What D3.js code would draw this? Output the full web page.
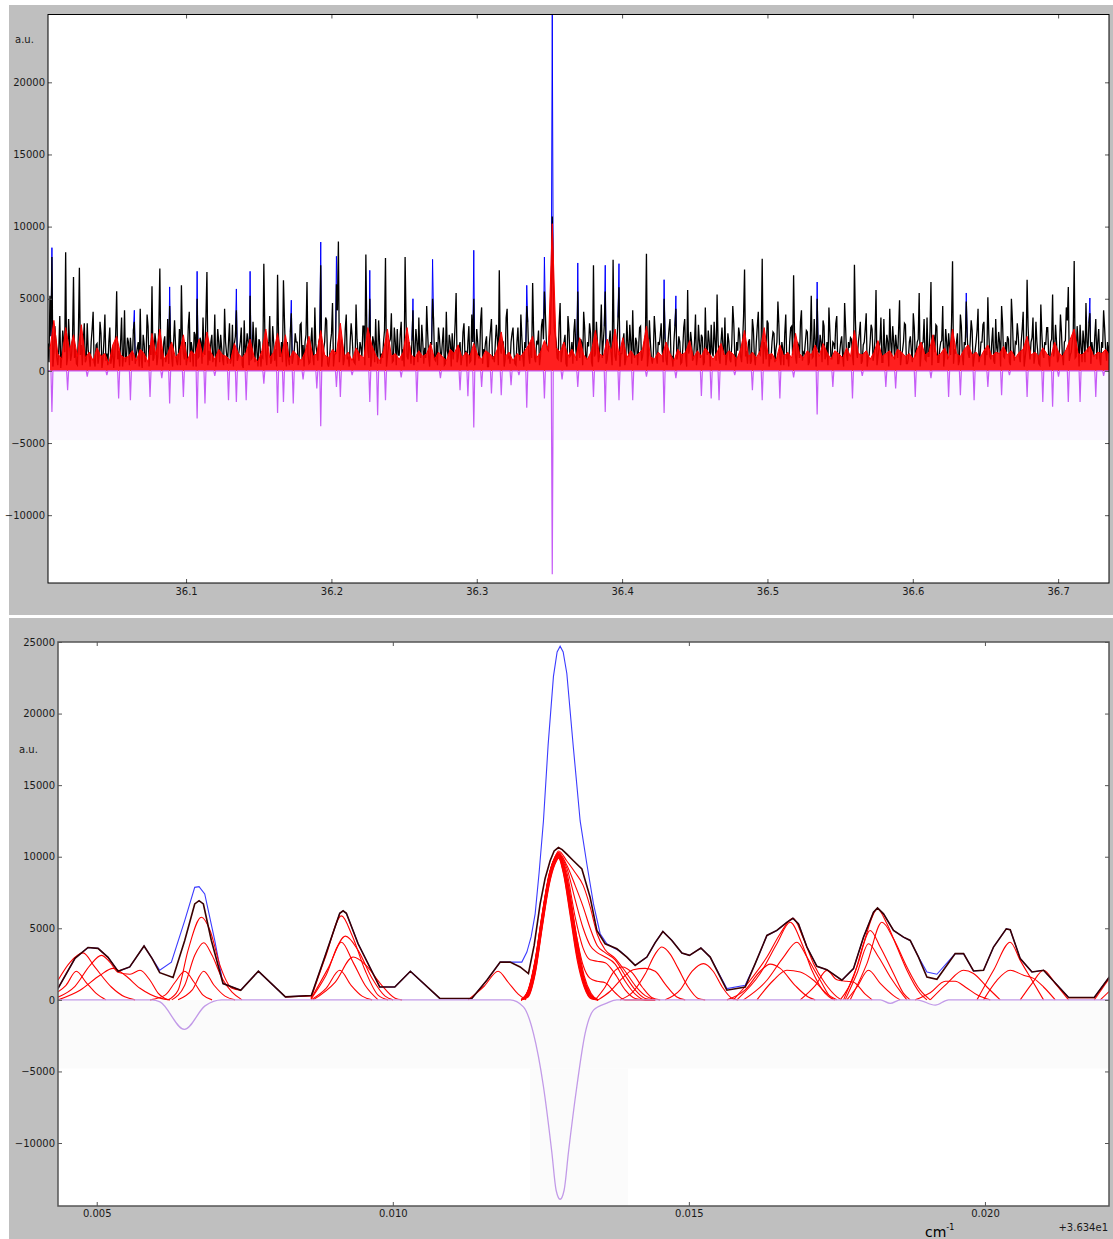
<!DOCTYPE html>
<html><head><meta charset="utf-8">
<script src="https://cdn.jsdelivr.net/npm/d3@7"></script>
<style>body{margin:0;background:#fff}svg{display:block}text{font-family:"DejaVu Sans",sans-serif}</style>
</head><body><svg id="c" width="1113" height="1239"></svg>
<script>
// ---------------- DATA ----------------
// Top panel: wide spectrum, uniform sample grid
const topXDomain = [36.005, 36.735];
const topYDomain = [-14700, 24700];
const topXTicks = [36.1, 36.2, 36.3, 36.4, 36.5, 36.6, 36.7];
const topYTicks = [-10000, -5000, 0, 5000, 10000, 15000, 20000];
const topStart = 36.005, topStep = 0.00135;
// fitted sum (black), one value per main sample
const topSum = [
1900,5200,7890,1200,2000,400,3800,1000,2000,8220,
900,2000,1100,6510,1500,400,7150,1800,2100,600,
3300,1000,2000,4100,300,1900,1000,2600,800,3900,
1200,2000,500,1700,1000,5520,1400,2000,300,4200,
1000,2000,2300,700,3400,1100,2000,4300,200,1900,
1000,3100,1800,5860,900,2000,1000,7090,1500,2000,
600,3600,4500,1000,2000,1800,400,2900,5930,1200,
2000,900,4100,2000,300,2500,5000,1000,2000,3700,
1100,6850,1400,2000,600,3900,1000,2000,2500,800,
4300,1200,2000,500,3200,1900,4200,1000,2000,400,
3500,1600,2000,5200,900,2000,3000,300,2000,1000,
7430,1100,2000,3800,700,2000,1500,6670,1000,2000,
6280,1200,2000,400,4000,1000,2600,2000,900,3300,
1800,2000,6160,500,2000,1000,4400,1300,2000,7320,
1000,2000,3500,300,2000,4700,1100,6000,8960,1500,
2000,800,3900,1000,2000,2400,600,4600,1200,2000,
1000,3100,8060,1400,5000,900,2000,3600,500,2000,
1200,2000,7820,1000,2000,4000,700,2000,2900,1100,
3400,1500,7890,1000,2000,500,4200,1300,2000,3700,
900,2000,1600,4500,1000,2000,5000,800,2000,3000,
1200,2000,400,4100,1000,2000,2600,1700,5400,900,
2000,1000,3300,1400,2000,600,3900,5000,1100,2000,
900,4400,1500,2000,300,2000,3600,1000,2000,2200,
6970,1200,2000,800,4300,1000,2000,3000,500,2000,
1300,3900,1000,2000,4500,1100,2000,6090,900,2000,
2800,1000,3600,5500,2000,1400,2600,10700,3000,2000,
800,4700,1200,2000,500,3800,1000,2000,2700,1500,
5500,900,2000,4100,1000,2000,3300,600,7320,1200,
2000,1000,4600,2000,5500,800,2000,1300,7710,1000,
2000,5800,1200,2000,400,3500,1000,2000,4200,900,
2000,1600,3100,1000,2000,8120,1100,2000,500,3800,
1000,2000,2400,1400,5000,800,2000,3600,1000,2000,
4300,1200,2000,600,3000,1000,5600,1500,2000,900,
3900,1000,2000,2500,400,4400,1100,2000,3200,1000,
2000,5300,900,2000,1600,3700,1000,2000,600,4500,
1200,2000,3000,1000,2000,7020,1400,2000,500,3600,
1000,2000,4100,1100,7780,2000,800,3300,1000,2000,
2600,1500,4800,1000,2000,400,3900,1200,2000,3100,
6620,1000,2000,900,4200,1300,2000,2700,600,5200,
1000,2000,5000,1200,2000,3500,800,2000,4400,1000,
2000,1500,3800,500,2000,1000,4700,1100,2000,2300,
1000,7360,1400,2000,3400,700,2000,4000,1000,2000,
2900,1200,5600,1000,2000,600,3600,1300,2000,4300,
1000,2000,2500,900,4900,1100,2000,3200,500,2000,
1400,4000,1000,2000,5400,1200,2000,800,3700,1000,
6160,2000,1300,3100,600,2000,4500,1000,2000,2600,
1100,7590,1500,2000,400,3900,1000,2000,4800,1200,
2000,2800,900,2000,4300,1000,2000,3400,1400,5100,
1000,2000,700,3600,1200,2000,4500,1000,2000,2400,
600,5000,1300,2000,3300,1000,2000,4100,900,6320,
1500,2000,3700,1000,2000,500,4600,1200,2000,3000,
1000,2000,5300,1400,2000,800,3900,1000,2000,4400,
5820,1100,2000,7620,1000,2000,3200,600,2000,4700,
1300,4000,2000,1000,3600,2000,900,2000,4200,1500,
2000,1800];
// fitted sum (black) at the half-way samples between main samples
const topSumMid = [
600,2400,300,3100,900,1500,200,2800,1300,400,
3600,700,2200,900,500,2700,1100,400,3300,800,
1400,300,2900,600,1800,500,3400,200,2100,700,
400,3000,900,200,2600,800,300,3700,1000,600,
2300,400,1200,2800,500,1600,300,900,2500,600,
3900,300,1100,700,2600,400,3200,800,300,2400,
1000,500,1900,300,3500,700,1200,400,2200,800,
400,3100,600,1500,2700,300,900,2300,500,1300,
3800,400,700,2500,1100,300,2900,600,1600,400,
2000,500,3300,900,300,2400,700,1500,3000,200,
1200,2600,400,800,3400,600,1300,2200,300,900,
2800,400,1700,500,3100,700,300,2400,1000,600,
3600,300,900,2700,500,1400,2000,400,3200,800,
300,2500,1100,600,3000,400,1800,700,2300,300,
1500,3700,500,900,2600,300,1200,4200,600,2100,
400,2900,800,300,3300,1000,500,2200,700,1600,
3100,400,2700,900,300,2400,600,1300,3500,500,
900,2800,300,1700,2200,600,3000,400,1100,2500,
700,300,3400,800,1500,2100,400,2900,600,1200,
3200,500,900,2600,300,1800,3600,700,400,2300,
1000,3000,500,1400,2500,300,800,3300,600,1700,
400,2700,1100,300,3100,700,2000,400,2900,900,
3500,500,1300,2400,300,2800,800,600,3200,400,
1500,2100,300,3700,900,500,2600,1200,400,3000,
700,2300,300,1600,3400,500,900,2700,600,1900,
400,3100,2200,3900,1500,2400,5500,6000,2500,900,
3300,600,1800,2500,300,2900,1100,500,3600,700,
1400,2200,400,3000,800,1700,2600,300,1000,3400,
600,2400,900,3100,500,1500,2800,400,2100,700,
3700,300,1200,2600,800,1900,3200,500,1400,2300,
400,3000,700,1600,2500,300,3500,900,1100,2700,
500,1800,3300,600,2200,400,2900,1000,300,3100,
800,2400,500,1500,3600,300,1200,2700,700,2000,
400,3200,900,2300,600,1700,2800,300,1300,3400,
700,2100,500,3000,1100,400,2600,800,1900,3300,
300,1400,2500,600,3800,1000,500,2200,700,2900,
400,3100,1200,2400,500,1600,3500,300,900,2700,
600,2000,3200,400,1500,2600,800,300,3000,1100,
2300,500,1800,3400,700,1200,2800,400,2100,900,
3600,300,1500,2500,600,3100,1000,400,2700,800,
1900,3300,500,1300,2400,300,3000,700,1600,2200,
400,3500,900,2600,500,1800,2900,300,1100,3200,
700,2300,400,1500,3700,600,1200,2500,300,2000,
3100,800,1700,2800,400,1400,3300,500,900,2400,
600,3000,1300,2200,300,1900,3600,700,1000,2700,
400,2500,3200,600,1500,2100,300,2900,800,1700,
3400,500,1200,2600,700,3100,400,1800,2300,900,
3500,300,1400,2800,600,2000,3200,400,1100,2500,
800,3000,500,1600,2700,300,3300,900,1300,2200,
400,3600,700,1900,2400,600,2900,300,1500,3100,
800,2300,500,3400,1200,400,2600,900,1800,3000,
300,2200,1000,3200,600,1500,2700,400,2100,3500,
700,1300,2500,900,3100,300,1700,2800,600,2000,
3300,500,1400,2400,800,2900,400,1600,3000,700,
1200];
// measured data (blue) where it rises above the fit: [main sample index, value]
const topBlueOverrides = [[2,8540],[44,4200],[62,5820],[76,6900],[96,5680],[103,6900],[124,4900],[139,8930],[147,7940],[164,6970],[186,5000],[196,7730],[217,8360],[244,5930],[253,7890],[257,24700],[270,7480],[284,7320],[291,7430],[314,6320],[320,5200],[392,6160],[468,5400],[531,5050]];
// residual (purple): [main sample index, value]
const topResidSpikes = [[2,-2840],[10,-1340],[20,-400],[30,-300],[36,-1920],[42,-2030],[52,-1800],[58,-500],[62,-2260],[69,-1800],[76,-3300],[80,-2260],[85,-350],[92,-2030],[96,-2150],[101,-2030],[110,-880],[117,-2910],[120,-2150],[125,-2260],[130,-600],[137,-1220],[139,-3830],[147,-1110],[149,-1800],[155,-300],[164,-2150],[168,-3070],[172,-2030],[180,-450],[188,-2150],[200,-500],[210,-1340],[214,-1750],[217,-3920],[221,-1110],[226,-1570],[231,-1680],[236,-990],[240,-300],[244,-2560],[253,-1920],[257,-14100],[262,-600],[270,-1110],[278,-1800],[284,-2840],[291,-2030],[298,-2030],[305,-400],[314,-2910],[320,-500],[333,-1730],[338,-1920],[342,-2030],[350,-300],[359,-1340],[364,-2030],[373,-1920],[380,-450],[392,-3020],[400,-1110],[410,-1920],[415,-350],[427,-1110],[432,-1220],[442,-1800],[450,-500],[459,-1800],[465,-1680],[472,-2030],[479,-1110],[486,-1680],[490,-300],[499,-1800],[507,-2150],[512,-2490],[515,-400],[520,-2150],[526,-2150],[534,-1800],[538,-350]];
// components (red) on a coarser grid
const topRedStart = 36.00635, topRedStep = 0.0027;
const topRed = [
1500,3500,1200,800,3000,1400,2500,1000,3200,900,
1300,700,1600,1000,1200,500,1800,2400,1100,900,
1000,1400,700,1500,1200,600,2600,1100,2900,800,
1200,2000,900,1300,2500,700,1400,1100,2200,1000,
2700,1300,800,1500,1100,1000,700,1900,1200,900,
1300,2200,1000,600,1400,2900,900,1300,2600,1000,
2500,800,1400,1100,700,1300,2400,1000,1200,2800,
1100,900,1500,1200,3300,1000,1300,700,1600,1100,
900,3000,1800,1100,700,1400,2900,1000,1200,800,
1300,3000,1100,900,1400,1000,1200,1900,800,1300,
1000,700,1500,1200,1800,900,1300,1000,1900,1100,
800,1400,1200,900,1500,2700,1000,1300,700,1200,
1000,1400,1800,2400,900,1300,2100,1500,10200,1600,
1300,2000,1000,1500,900,2300,1100,800,1400,2800,
1200,1000,2200,1300,2900,1100,2300,900,1400,1000,
1200,1500,3100,1000,800,1300,1000,2000,1200,700,
1500,1100,1300,2100,900,1400,1000,1600,1200,800,
1300,1900,1000,1400,1200,800,1500,2800,1000,1300,
900,1400,3000,1100,1200,700,1800,1000,1300,900,
2600,1200,900,1400,1100,1800,1000,1900,1300,800,
1400,1200,900,1600,1000,2800,1200,1100,1400,800,
1300,2100,1000,1200,1400,900,1500,1300,1000,1200,
800,1500,2000,1100,1300,2500,1000,1200,1600,900,
2900,1200,1000,1500,1800,1100,1300,900,1400,1800,
1000,1300,1200,1700,1100,1400,900,1300,1500,2400,
1100,1300,1000,1600,1200,900,2000,1300,1000,1500,
2200,2900,1200,1100,1400,1700,1000,1300,1200,1500,
1100];
const topShade = [[36.005, 36.735, 0, -4800]];

// Bottom panel: zoom on 36.34 + x
const botXDomain = [0.004346, 0.022095];
const botYDomain = [-14400, 25000];
const botXTicks = [0.005, 0.010, 0.015, 0.020];
const botYTicks = [-10000, -5000, 0, 5000, 10000, 15000, 20000, 25000];
const botOffsetText = "+3.634e1";
const botBlack = [[0.004346,800],[0.004633,2900],[0.004853,3660],[0.005022,3600],[0.005191,2970],[0.005360,2000],[0.005557,2300],[0.005799,3760],[0.005934,2900],[0.006064,1900],[0.006289,1560],[0.006486,4150],[0.006655,6700],[0.006728,6930],[0.006801,6700],[0.006936,4150],[0.007133,1140],[0.007432,675],[0.007730,2000],[0.008186,210],[0.008625,300],[0.008851,2990],[0.009104,6050],[0.009161,6220],[0.009216,6050],[0.009414,3920],[0.009780,900],[0.010034,900],[0.010297,2000],[0.010794,100],[0.011334,100],[0.011588,1370],[0.011814,2640],[0.011981,2640],[0.012150,2300],[0.012291,1840],[0.012387,3800],[0.012488,6700],[0.012573,8500],[0.012657,9720],[0.012725,10400],[0.012797,10640],[0.012860,10500],[0.012939,10180],[0.013050,9720],[0.013193,9140],[0.013333,7160],[0.013446,4850],[0.013586,3920],[0.013784,3570],[0.013953,2990],[0.014093,2410],[0.014291,2990],[0.014431,4000],[0.014561,4780],[0.014713,4150],[0.014882,3270],[0.015010,3110],[0.015203,3620],[0.015360,2990],[0.015642,675],[0.015951,900],[0.016120,2530],[0.016318,4500],[0.016486,4850],[0.016655,5420],[0.016757,5700],[0.016851,5310],[0.016993,3690],[0.017162,2340],[0.017331,2110],[0.017584,1370],[0.017780,2180],[0.017949,4380],[0.018118,6120],[0.018186,6420],[0.018287,6010],[0.018456,4850],[0.018625,4380],[0.018738,4150],[0.018878,2990],[0.019020,1600],[0.019189,1440],[0.019498,3230],[0.019639,3230],[0.019807,2020],[0.019976,2070],[0.020145,3690],[0.020360,4960],[0.020427,4900],[0.020596,2880],[0.020794,1950],[0.020990,2070],[0.021412,170],[0.021846,170],[0.022100,1600]];
const botBlue = [[0.004346,800],[0.004633,2900],[0.004853,3660],[0.005022,3600],[0.005191,2970],[0.005360,2000],[0.005557,2300],[0.005799,3760],[0.005934,2900],[0.006064,2065],[0.006261,2640],[0.006486,5540],[0.006655,7860],[0.006728,7910],[0.006824,7400],[0.006993,4150],[0.007133,1140],[0.007432,675],[0.007730,2000],[0.008186,210],[0.008625,300],[0.008851,2990],[0.009104,6050],[0.009161,6220],[0.009216,6050],[0.009414,3920],[0.009780,900],[0.010034,900],[0.010297,2000],[0.010794,100],[0.011334,100],[0.011588,1370],[0.011814,2640],[0.011981,2640],[0.012095,2640],[0.012179,2640],[0.012264,3340],[0.012336,4400],[0.012404,6010],[0.012471,8900],[0.012544,12500],[0.012623,17800],[0.012713,22600],[0.012775,24300],[0.012826,24700],[0.012877,24300],[0.012939,22800],[0.013050,17600],[0.013164,12500],[0.013277,9490],[0.013389,6700],[0.013502,4620],[0.013615,3920],[0.013727,3640],[0.013840,3400],[0.013953,2990],[0.014093,2410],[0.014291,2990],[0.014431,4000],[0.014561,4780],[0.014713,4150],[0.014882,3270],[0.015010,3110],[0.015203,3620],[0.015360,2990],[0.015642,790],[0.015951,1020],[0.016120,2530],[0.016318,4500],[0.016486,4850],[0.016655,5420],[0.016757,5700],[0.016851,5310],[0.016993,3690],[0.017162,2340],[0.017331,2110],[0.017584,1370],[0.017780,2180],[0.017949,4380],[0.018118,6120],[0.018186,6420],[0.018287,6010],[0.018456,4850],[0.018625,4380],[0.018738,4150],[0.018878,2990],[0.019020,1950],[0.019189,1790],[0.019498,3230],[0.019639,3230],[0.019807,2020],[0.019976,2070],[0.020145,3690],[0.020360,4960],[0.020427,4900],[0.020596,2880],[0.020794,1950],[0.020990,2070],[0.021412,170],[0.021846,170],[0.022100,1600]];
const botResid = [[0.004346,0],[0.005929,0],[0.006069,-140],[0.006480,-2060],[0.006829,-420],[0.007111,0],[0.011981,0],[0.012206,-490],[0.012375,-2340],[0.012544,-6050],[0.012686,-10660],[0.012758,-13300],[0.012826,-13930],[0.012893,-13300],[0.012966,-10660],[0.013108,-6050],[0.013248,-2340],[0.013389,-720],[0.013615,-230],[0.013784,0],[0.018233,0],[0.018401,-250],[0.018570,0],[0.018851,0],[0.019161,-370],[0.019385,0],[0.022100,0]];
// fitted components (red), each a list of [x, value]
const botRedComponents = [
 [[0.004346,556],[0.004481,1020],[0.004655,2000],[0.004819,1230],[0.004986,470],[0.005157,0]],
 [[0.004346,1370],[0.004549,2620],[0.004769,3280],[0.004966,2300],[0.005247,900],[0.005473,210],[0.005647,0]],
 [[0.004346,190],[0.004633,950],[0.004887,2410],[0.005078,3110],[0.005225,2620],[0.005360,1930],[0.005562,1790],[0.005731,2070],[0.005900,1370],[0.006036,470],[0.006204,0]],
 [[0.004346,0],[0.004718,675],[0.005056,1720],[0.005276,2200],[0.005478,1720],[0.005731,810],[0.006069,120],[0.006238,0]],
 [[0.006204,0],[0.006374,675],[0.006542,3460],[0.006767,5770],[0.006914,4850],[0.007081,2410],[0.007285,810],[0.007432,675]],
 [[0.006267,0],[0.006486,1020],[0.006655,3110],[0.006807,3990],[0.006948,3110],[0.007117,1510],[0.007285,540],[0.007454,0]],
 [[0.006374,0],[0.006610,675],[0.006807,2000],[0.006981,1020],[0.007166,260],[0.007336,0]],
 [[0.005900,0],[0.006154,330],[0.006323,1230],[0.006486,2000],[0.006644,1230],[0.006796,330],[0.006948,0]],
 [[0.008186,200],[0.008625,280]],
 [[0.008620,120],[0.008873,3110],[0.009132,5870],[0.009313,4500],[0.009532,2070],[0.009752,330],[0.009921,0]],
 [[0.008620,80],[0.008907,2200],[0.009200,4450],[0.009414,3460],[0.009650,1510],[0.009870,260],[0.010005,0]],
 [[0.008620,60],[0.008873,1720],[0.009132,4030],[0.009330,2620],[0.009532,1020],[0.009752,0]],
 [[0.008654,0],[0.009025,1230],[0.009330,2990],[0.009549,2410],[0.009786,1160],[0.010039,120],[0.010157,0]],
 [[0.008620,0],[0.008873,810],[0.009104,2065],[0.009296,1020],[0.009482,260],[0.009651,0]],
 [[0.011272,0],[0.011542,950],[0.011779,2000],[0.011948,1230],[0.012118,400],[0.012252,0]],
 [[0.013417,0],[0.013586,900],[0.013721,1900],[0.013873,2300],[0.014042,1900],[0.014211,900],[0.014380,150],[0.014515,0]],
 [[0.013468,0],[0.013671,600],[0.013873,1500],[0.014059,2100],[0.014262,2200],[0.014431,2000],[0.014600,1100],[0.014797,200],[0.014938,0]],
 [[0.013840,0],[0.014042,500],[0.014262,1800],[0.014431,3200],[0.014544,3690],[0.014684,3200],[0.014819,2200],[0.014988,900],[0.015157,100],[0.015275,0]],
 [[0.014600,0],[0.014853,700],[0.015056,2000],[0.015247,2530],[0.015410,2000],[0.015563,900],[0.015731,100],[0.015833,0]],
 [[0.015753,0],[0.016036,1370],[0.016318,2990],[0.016542,4620],[0.016757,5700],[0.016936,4270],[0.017105,2530],[0.017302,1140],[0.017500,210],[0.017573,0]],
 [[0.015811,0],[0.016204,1840],[0.016486,3920],[0.016711,5420],[0.016909,3920],[0.017078,2065],[0.017302,445],[0.017443,0]],
 [[0.015922,0],[0.016318,1370],[0.016598,2990],[0.016824,4030],[0.016993,2990],[0.017218,1370],[0.017416,100],[0.017471,0]],
 [[0.016149,0],[0.016429,1370],[0.016655,2065],[0.016880,1950],[0.017105,1370],[0.017331,420],[0.017500,0]],
 [[0.015642,0],[0.015951,700],[0.016204,2000],[0.016373,2500],[0.016542,2200],[0.016796,1000],[0.017016,200],[0.017134,0]],
 [[0.016880,0],[0.017134,1000],[0.017331,2060],[0.017500,1400],[0.017657,1300],[0.017775,1250],[0.017978,400],[0.018096,0]],
 [[0.017556,0],[0.017780,1600],[0.017949,3920],[0.018186,6350],[0.018345,5310],[0.018514,3690],[0.018682,2065],[0.018907,445],[0.019020,0]],
 [[0.017725,0],[0.018007,2530],[0.018260,5420],[0.018456,4270],[0.018682,2295],[0.018907,675],[0.019076,0]],
 [[0.017612,0],[0.017838,2295],[0.018063,4850],[0.018232,3690],[0.018456,1840],[0.018625,450],[0.018738,0]],
 [[0.017640,0],[0.017838,1840],[0.018034,3920],[0.018203,2990],[0.018401,1600],[0.018625,300],[0.018682,0]],
 [[0.017669,0],[0.017838,900],[0.018034,2065],[0.018232,1150],[0.018456,300],[0.018570,0]],
 [[0.019076,0],[0.019358,1140],[0.019639,2065],[0.019807,1840],[0.020034,900],[0.020258,0]],
 [[0.018822,0],[0.019076,500],[0.019330,1300],[0.019498,1300],[0.019667,900],[0.019887,300],[0.020090,0]],
 [[0.019865,0],[0.020145,2065],[0.020427,4030],[0.020596,2760],[0.020794,1370],[0.020990,0]],
 [[0.019976,0],[0.020203,1370],[0.020427,2065],[0.020652,1720],[0.020821,1500],[0.020990,900],[0.021188,0]],
 [[0.020596,0],[0.020794,1140],[0.020990,2070],[0.021188,1140],[0.021412,0]],
 [[0.021412,150],[0.021846,150]],
 [[0.021846,0],[0.022100,1500]],
 [[0.021948,0],[0.022100,600]]
];
// narrow components under the central line (shared x grid)
const narrowX = [0.012167,0.012285,0.012404,0.012522,0.012640,0.012742,0.012801,0.012877,0.012995,0.013113,0.013231,0.013350,0.013468];
const narrowY = [
 [0,600,2600,5800,8700,10000,10300,9600,7300,4200,1700,450,0],
 [0,500,2400,5600,8600,9950,10200,9500,7100,4000,1500,350,0],
 [0,450,2300,5500,8500,9900,10150,9400,6900,3800,1400,300,0],
 [0,400,2200,5400,8400,9850,10100,9300,6700,3600,1300,250,0],
 [0,350,2100,5300,8300,9800,10050,9200,6500,3400,1200,200,0],
 [0,300,2000,5200,8200,9700,10000,9100,6300,3200,1100,150,0],
 [0,250,1900,5100,8100,9600,9950,9000,6100,3000,1000,100,0],
 [0,200,1800,5000,8000,9500,9900,8900,5900,2800,900,80,0]
];
// shoulder sums on the right of the central line
const shoulderX = [0.012167,0.012285,0.012404,0.012522,0.012640,0.012742,0.012801,0.012939,0.013079,0.013215,0.013333,0.013451,0.013586,0.013755,0.013924,0.014093,0.014262,0.014431];
const shoulderY = [
 [0,700,2800,6000,8800,10000,10400,9700,8900,8000,6500,4600,3500,2900,2000,1000,300,0],
 [0,650,2750,5950,8750,10000,10300,9400,8000,6500,5000,3800,3300,2800,1700,700,100,0],
 [0,600,2700,5900,8700,9950,10200,9200,7000,5000,3800,3300,3000,2500,1300,400,0,0],
 [0,600,2650,5850,8650,9900,10100,8900,5800,3600,2800,2700,2600,1800,700,100,0,0],
 [0,550,2600,5800,8600,9850,10000,8600,5000,2400,1500,1300,1200,500,0,0,0,0]
];
const botShade = [[0.004346, 0.022095, 0, -4800], [0.012319, 0.013975, -4800, -14400]];

// ---------------- DRAWING ----------------
const svg = d3.select("#c");
const defs = svg.append("defs");
svg.append("rect").attr("x", 9).attr("y", 5).attr("width", 1104).attr("height", 610).attr("fill", "#bfbfbf");
svg.append("rect").attr("x", 9).attr("y", 618).attr("width", 1104).attr("height", 621).attr("fill", "#bfbfbf");

function panel(id, box, xDom, yDom) {
  const x = d3.scaleLinear().domain(xDom).range([box.l, box.r]);
  const y = d3.scaleLinear().domain(yDom).range([box.b, box.t]);
  defs.append("clipPath").attr("id", id).append("rect")
    .attr("x", box.l).attr("y", box.t).attr("width", box.r - box.l).attr("height", box.b - box.t);
  svg.append("rect").attr("x", box.l).attr("y", box.t).attr("width", box.r - box.l).attr("height", box.b - box.t).attr("fill", "#fff");
  const g = svg.append("g").attr("clip-path", `url(#${id})`);
  return {x, y, g};
}

function axes(box, x, y, xticks, yticks, xfmt, xpad, frameColor, frameWidth) {
  const g = svg.append("g").attr("font-size", 10).attr("font-family", "DejaVu Sans");
  g.append("g").attr("transform", `translate(${box.l},0)`)
    .call(d3.axisLeft(y).tickValues(yticks).tickSizeInner(-4).tickSizeOuter(0).tickPadding(3).tickFormat(d3.format("d")));
  g.append("g").attr("transform", `translate(${box.r},0)`)
    .call(d3.axisRight(y).tickValues(yticks).tickSizeInner(-4).tickSizeOuter(0).tickFormat(""));
  g.append("g").attr("transform", `translate(0,${box.b})`)
    .call(d3.axisBottom(x).tickValues(xticks).tickSizeInner(-4).tickSizeOuter(0).tickPadding(xpad).tickFormat(xfmt));
  g.append("g").attr("transform", `translate(0,${box.t})`)
    .call(d3.axisTop(x).tickValues(xticks).tickSizeInner(-4).tickSizeOuter(0).tickFormat(""));
  g.selectAll(".domain").remove();
  g.selectAll(".tick line").attr("stroke", "#555");
  g.selectAll(".tick text").attr("fill", "#1a1a1a");
  svg.append("rect").attr("x", box.l).attr("y", box.t).attr("width", box.r - box.l).attr("height", box.b - box.t)
    .attr("fill", "none").attr("stroke", frameColor).attr("stroke-width", frameWidth);
}

// ---- Top panel ----
const TB = {l: 48, t: 14.5, r: 1109, b: 583};
const topP = panel("clipT", TB, topXDomain, topYDomain);
topShade.forEach(([x0, x1, y0, y1]) => {
  topP.g.append("rect").attr("x", topP.x(x0)).attr("width", topP.x(x1) - topP.x(x0))
    .attr("y", topP.y(y0)).attr("height", topP.y(y1) - topP.y(y0)).attr("fill", "#fbf7ff");
});
// interleave main and half-way samples
const topFine = [];
topSum.forEach((v, i) => {
  topFine.push([topStart + i * topStep, v]);
  if (i < topSumMid.length) topFine.push([topStart + (i + 0.5) * topStep, topSumMid[i]]);
});
const topResidFine = topFine.map(d => [d[0], 0]);
topResidSpikes.forEach(([i, v]) => { topResidFine[2 * i][1] = v; });
const lineT = d3.line().x(d => topP.x(d[0])).y(d => topP.y(d[1]));
// measured data (blue): only visible where it exceeds the fit
topBlueOverrides.forEach(([i, v]) => {
  const k = 2 * i;
  const seg = [topFine[Math.max(k - 1, 0)], [topFine[k][0], v], topFine[Math.min(k + 1, topFine.length - 1)]];
  topP.g.append("path").attr("d", lineT(seg)).attr("fill", "none").attr("stroke", "#0000ff").attr("stroke-width", 1);
});
topP.g.append("path").attr("d", lineT(topFine))
  .attr("fill", "none").attr("stroke", "#000").attr("stroke-width", 1.3);
const redPts = topRed.map((v, j) => [topRedStart + j * topRedStep, v]);
topP.g.append("path").attr("d", d3.area().x(d => topP.x(d[0])).y0(topP.y(0)).y1(d => topP.y(d[1]))(redPts))
  .attr("fill", "#ff0000").attr("fill-opacity", 0.88);
topP.g.append("path").attr("d", lineT(redPts)).attr("fill", "none").attr("stroke", "#ff0000").attr("stroke-width", 1);
topP.g.append("path").attr("d", lineT(topResidFine))
  .attr("fill", "none").attr("stroke", "#c65cf7").attr("stroke-width", 1.2);
axes(TB, topP.x, topP.y, topXTicks, topYTicks, d3.format(".1f"), 5, "#000", 1);
svg.append("text").attr("x", 15).attr("y", 43).attr("font-size", 10).attr("fill", "#1a1a1a").text("a.u.");

// ---- Bottom panel ----
const BB = {l: 58, t: 642, r: 1109, b: 1206};
const botP = panel("clipB", BB, botXDomain, botYDomain);
botShade.forEach(([x0, x1, y0, y1]) => {
  botP.g.append("rect").attr("x", botP.x(x0)).attr("width", botP.x(x1) - botP.x(x0))
    .attr("y", botP.y(y0)).attr("height", botP.y(y1) - botP.y(y0)).attr("fill", "#fbfbfb");
});
const lineB = d3.line().x(d => botP.x(d[0])).y(d => botP.y(d[1]));
const smoothB = d3.line().x(d => botP.x(d[0])).y(d => botP.y(d[1])).curve(d3.curveMonotoneX);
botP.g.append("path").attr("d", lineB(botBlue)).attr("fill", "none").attr("stroke", "#3b3bff").attr("stroke-width", 1.1);
narrowY.forEach(row => {
  botP.g.append("path").attr("d", smoothB(row.map((v, i) => [narrowX[i], v])))
    .attr("fill", "none").attr("stroke", "#ff0000").attr("stroke-width", 1.1);
});
shoulderY.forEach(row => {
  botP.g.append("path").attr("d", smoothB(row.map((v, i) => [shoulderX[i], v])))
    .attr("fill", "none").attr("stroke", "#ff0000").attr("stroke-width", 1.1);
});
botRedComponents.forEach(c => {
  botP.g.append("path").attr("d", smoothB(c)).attr("fill", "none").attr("stroke", "#ff0000").attr("stroke-width", 1.1);
});
botP.g.append("path").attr("d", lineB(botBlack)).attr("fill", "none").attr("stroke", "#3a0000").attr("stroke-width", 1.6);
botP.g.append("path").attr("d", smoothB(botResid)).attr("fill", "none").attr("stroke", "#c29ae8").attr("stroke-width", 1.3);
axes(BB, botP.x, botP.y, botXTicks, botYTicks, d3.format(".3f"), 4, "#555", 1.5);
svg.append("text").attr("x", 19).attr("y", 753).attr("font-size", 10).attr("fill", "#1a1a1a").text("a.u.");
svg.append("text").attr("x", 1108).attr("y", 1231).attr("font-size", 10).attr("text-anchor", "end").attr("fill", "#1a1a1a").text(botOffsetText);
const xl = svg.append("text").attr("x", 925).attr("y", 1237).attr("font-size", 14).attr("fill", "#000");
xl.append("tspan").text("cm");
xl.append("tspan").attr("dy", -7).attr("font-size", 8).text("-1");
</script></body></html>
